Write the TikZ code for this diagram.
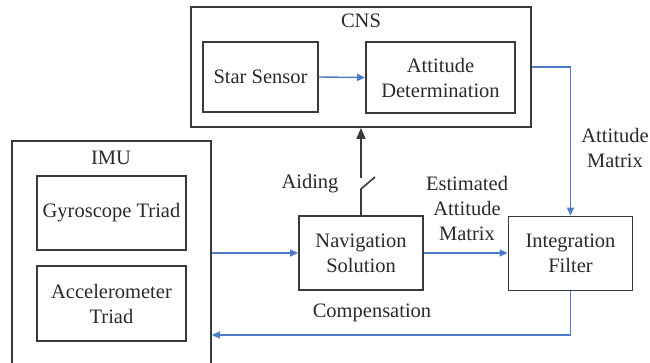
\documentclass[tikz,border=0pt]{standalone}
\usepackage{fontspec}
\setmainfont{Liberation Serif}
\usetikzlibrary{arrows.meta}
\definecolor{edge}{HTML}{3A3A3A}
\definecolor{flow}{HTML}{4A7CC9}
\definecolor{ink}{HTML}{2A2A2A}
\tikzset{
  box/.style={draw=edge, line width=1.8pt, rectangle, inner sep=0pt, align=center, text=ink},
  lbl/.style={align=center, text=ink, inner sep=0pt},
  flowline/.style={draw=flow, line width=1.4pt},
  flowarrow/.style={flowline, -{Triangle[length=8pt,width=7pt]}},
  aidline/.style={draw=edge, line width=1.6pt},
}
\begin{document}
\begin{tikzpicture}[x=1pt,y=-1pt, font=\fontsize{20.5}{25}\selectfont]
\clip (0,0) rectangle (650,363);
\fill[white] (0,0) rectangle (650,363);

% CNS group
\node[box, minimum width=340pt, minimum height=120pt] (cns) at (361,67) {};
\node[lbl] (cnst) at (361,21) {CNS};
\node[box, minimum width=115pt, minimum height=70pt] (star) at (260.5,77) {Star Sensor};
\node[box, minimum width=149pt, minimum height=71pt] (att) at (440.5,77.5) {Attitude\\Determination};

% IMU group
\node[box, minimum width=199pt, minimum height=244pt] (imu) at (111.5,263) {};
\node[lbl] (imut) at (111,158) {IMU};
\node[box, minimum width=149pt, minimum height=74pt] (gyro) at (111.5,213) {Gyroscope Triad};
\node[box, minimum width=149pt, minimum height=75pt] (acc) at (111.5,303.5) {Accelerometer\\Triad};

% Processing blocks
\node[box, minimum width=124pt, minimum height=74pt] (nav) at (361,253) {Navigation\\Solution};
\node[box, minimum width=124pt, minimum height=74pt] (filt) at (570.5,253.5) {Integration\\Filter};

% Labels
\node[lbl] (lam) at (615,148) {Attitude\\Matrix};
\node[lbl] (lest) at (467,208) {Estimated\\Attitude\\Matrix};
\node[lbl] (laid) at (310,184) {Aiding};
\node[lbl] (lcmp) at (372,313) {Compensation};

% Signal flow
\draw[flowarrow] (star.east) -- (att.west);
\draw[flowarrow] (cns.east) -| (filt.north);
\draw[flowarrow] (imu.east |- nav.west) -- (nav.west);
\draw[flowarrow] (nav.east) -- (filt.west |- nav.east);
\coordinate (cmp) at (0,335);
\draw[flowarrow] (filt.south) -- (filt.south |- cmp) -- (imu.east |- cmp);

% Aiding switch
\coordinate (sw1) at (361,189);
\coordinate (swtip) at (375,177);
\coordinate (sw2) at (361,178);
\draw[aidline] (nav.north) -- (sw1) -- (swtip);
\draw[aidline, -{Triangle[length=11pt,width=9pt]}] (sw2) -- (cns.south);
\end{tikzpicture}
\end{document}
